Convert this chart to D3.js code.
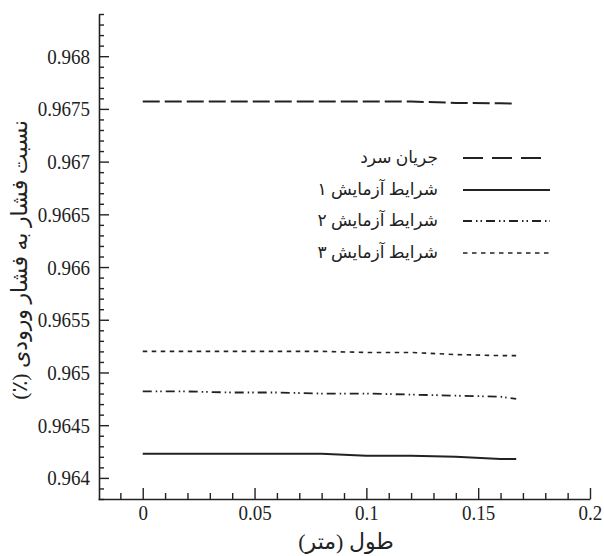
<!DOCTYPE html>
<html>
<head>
<meta charset="utf-8">
<script src="https://cdn.jsdelivr.net/npm/d3@7/dist/d3.min.js"></script>
<style>
  html, body { margin: 0; padding: 0; background: #fff; }
  svg { display: block; }
</style>
</head>
<body>
<svg id="chart" width="604" height="556"></svg>
<script>
// Distance along the channel (m)
const positions = [0, 0.02, 0.04, 0.06, 0.08, 0.1, 0.12, 0.14, 0.16, 0.167];

// Pressure ratio to inlet pressure for each case
const coldFlow = [0.96757, 0.96757, 0.96757, 0.96757, 0.96757, 0.96757, 0.96757, 0.967557, 0.967553, 0.96755];
const test1    = [0.96423, 0.96423, 0.96423, 0.96423, 0.96423, 0.96421, 0.96421, 0.96420, 0.96418, 0.96418];
const test2    = [0.96482, 0.96482, 0.96481, 0.96481, 0.96480, 0.96480, 0.96479, 0.96478, 0.96477, 0.96475];
const test3    = [0.96520, 0.96520, 0.96520, 0.96520, 0.96520, 0.96519, 0.96519, 0.96517, 0.96516, 0.96516];

const seriesNames = ["جریان سرد", "شرایط آزمایش ۱", "شرایط آزمایش ۲", "شرایط آزمایش ۳"];

const xTickValues = [0, 0.05, 0.1, 0.15, 0.2];
const xTickLabels = ["0", "0.05", "0.1", "0.15", "0.2"];
const yTickValues = [0.964, 0.9645, 0.965, 0.9655, 0.966, 0.9665, 0.967, 0.9675, 0.968];
const yTickLabels = ["0.964", "0.9645", "0.965", "0.9655", "0.966", "0.9665", "0.967", "0.9675", "0.968"];

const xTitle = "طول (متر)";
const yTitle = "نسبت فشار به فشار ورودی (٪)";

const ink = "#222";
const numFont = '"Liberation Serif", "DejaVu Serif Condensed", "DejaVu Serif", serif';
const faFont = '"Liberation Serif", "DejaVu Sans", serif';

const svg = d3.select("#chart");

const x = d3.scaleLinear().domain([-0.02, 0.2]).range([98, 590]);
const y = d3.scaleLinear().domain([0.9638, 0.9684]).range([499, 14]);

// Minor ticks
const xMinor = d3.range(-1, 21).map(i => i / 100).filter(v => !xTickValues.some(t => Math.abs(t - v) < 1e-9));
const yMinor = d3.range(9638, 9685).map(i => i / 10000).filter(v => !yTickValues.some(t => Math.abs(t - v) < 1e-9));

function styleAxis(g) {
  g.attr("font-family", null);
  g.select(".domain").attr("stroke", ink).attr("stroke-width", 1.6);
  g.selectAll(".tick line").attr("stroke", ink).attr("stroke-width", 1.4);
  g.selectAll(".tick text").attr("fill", ink)
    .style("font-family", numFont).style("font-size", "19px");
}

// Y axis
const gy = svg.append("g").attr("transform", "translate(99,0)");
gy.call(d3.axisLeft(y).tickValues(yTickValues).tickFormat((d, i) => yTickLabels[i])
  .tickSizeInner(-10).tickSizeOuter(0).tickPadding(9));
styleAxis(gy);
gy.selectAll(".tick text").each(function () {
  const t = d3.select(this);
  const tx = +t.attr("x");
  t.attr("x", 0).attr("transform", `translate(${tx},0) scale(1,1.15)`);
});
const gyMinor = svg.append("g").attr("transform", "translate(99,0)");
gyMinor.call(d3.axisLeft(y).tickValues(yMinor).tickFormat("").tickSizeInner(-5).tickSizeOuter(0));
gyMinor.select(".domain").remove();
gyMinor.selectAll(".tick line").attr("stroke", ink).attr("stroke-width", 1.4);

// X axis
const gx = svg.append("g").attr("transform", "translate(0,499)");
gx.call(d3.axisBottom(x).tickValues(xTickValues).tickFormat((d, i) => xTickLabels[i])
  .tickSizeInner(-11).tickSizeOuter(0).tickPadding(5));
styleAxis(gx);
gx.selectAll(".tick text").each(function () {
  const t = d3.select(this);
  const ty = +t.attr("y");
  t.attr("y", 0).attr("transform", `translate(0,${ty}) scale(1,1.15)`);
});
const gxMinor = svg.append("g").attr("transform", "translate(0,499)");
gxMinor.call(d3.axisBottom(x).tickValues(xMinor).tickFormat("").tickSizeInner(-6).tickSizeOuter(0));
gxMinor.select(".domain").remove();
gxMinor.selectAll(".tick line").attr("stroke", ink).attr("stroke-width", 1.4);

// Axis titles
svg.append("text")
  .attr("x", 346).attr("y", 549)
  .attr("direction", "rtl").attr("text-anchor", "middle")
  .style("font-family", faFont).style("font-size", "22px").attr("fill", ink)
  .text(xTitle);

svg.append("text")
  .attr("transform", "translate(27,260) rotate(-90)")
  .attr("direction", "rtl").attr("text-anchor", "middle")
  .style("font-family", faFont).style("font-size", "22px").attr("fill", ink)
  .text(yTitle);

// Series
const series = [
  { name: seriesNames[0], values: coldFlow, dash: "17,5", width: 2 },
  { name: seriesNames[1], values: test1, dash: null, width: 2 },
  { name: seriesNames[2], values: test2, dash: "9,4,1.5,3,1.5,4", width: 1.8 },
  { name: seriesNames[3], values: test3, dash: "4.5,4.5", width: 1.6 }
];

const line = d3.line().x(d => x(d[0])).y(d => y(d[1]));

svg.append("g").selectAll("path")
  .data(series).join("path")
  .attr("d", s => line(positions.map((p, i) => [p, s.values[i]])))
  .attr("fill", "none")
  .attr("stroke", ink)
  .attr("stroke-width", s => s.width)
  .attr("stroke-dasharray", s => s.dash);

// Legend
const legendRows = [158, 190, 221, 253];
const lg = svg.append("g");
series.forEach((s, i) => {
  lg.append("line")
    .attr("x1", 463).attr("x2", 550)
    .attr("y1", legendRows[i]).attr("y2", legendRows[i])
    .attr("stroke", ink).attr("stroke-width", s.width)
    .attr("stroke-dasharray", i === 0 ? "20,9" : s.dash);
  lg.append("text")
    .attr("x", 438).attr("y", legendRows[i] + 5)
    .attr("direction", "rtl").attr("text-anchor", "start")
    .style("font-family", faFont).style("font-size", "17px").attr("fill", ink)
    .text(s.name);
});
</script>
</body>
</html>
